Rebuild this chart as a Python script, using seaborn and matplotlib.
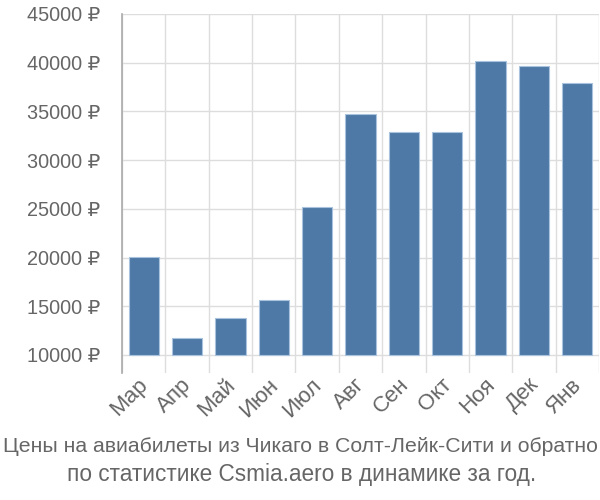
import matplotlib
matplotlib.use("Agg")
import matplotlib.pyplot as plt
import matplotlib.transforms as mtransforms
import seaborn as sns
import pandas as pd
from matplotlib.ticker import FixedLocator

months = ["Мар", "Апр", "Май", "Июн", "Июл", "Авг", "Сен", "Окт", "Ноя", "Дек", "Янв"]
prices = [20100, 11700, 13750, 15600, 25200, 34750, 32850, 32850, 40150, 39700, 37900]
ytick_values = [10000, 15000, 20000, 25000, 30000, 35000, 40000, 45000]
ytick_labels = [f"{v} ₽" for v in ytick_values]
title_lines = ["Цены на авиабилеты из Чикаго в Солт-Лейк-Сити и обратно",
               "по статистике Csmia.aero в динамике за год."]
base = 10000

sns.set_theme(style="white")
plt.rcParams["font.family"] = ["Liberation Sans", "DejaVu Sans"]

df = pd.DataFrame({"month": months, "height": [p - base for p in prices]})

fig = plt.figure(figsize=(6, 5), dpi=100)
ax = fig.add_axes([122/600, (500-373)/500, (599-122)/600, (373-14)/500])

sns.barplot(data=df, x="month", y="height", ax=ax, color="#4e79a7", saturation=1,
            width=0.7, bottom=base, edgecolor="#a9c2dd", linewidth=0.8, zorder=3)

ax.set_xlim(-0.5, len(months) - 0.5)
ax.set_ylim(8150, 45000)
ax.set_yticks(ytick_values)
ax.set_yticklabels(ytick_labels)
ax.xaxis.set_minor_locator(FixedLocator([i + 0.5 for i in range(-1, len(months))]))
ax.grid(axis="y", which="major", color="#dddddd", linewidth=1, zorder=0)
ax.grid(axis="x", which="minor", color="#dddddd", linewidth=1, zorder=0)
ax.set_axisbelow(True)
ax.set_xlabel("")
ax.set_ylabel("")

for s in ["top", "right", "bottom"]:
    ax.spines[s].set_visible(False)
ax.spines["left"].set_color("#aaaaaa")
ax.spines["left"].set_linewidth(1.2)

ax.tick_params(axis="y", length=14, width=1, color="#dddddd", labelsize=14.3,
               labelcolor="#666666", pad=2)
ax.tick_params(axis="x", which="both", length=0, labelsize=16, labelcolor="#666666", pad=1)
shift = mtransforms.ScaledTranslation(-0.06, 0, fig.dpi_scale_trans)
for lab in ax.get_xticklabels():
    lab.set_rotation(45)
    lab.set_ha("right")
    lab.set_rotation_mode("anchor")
    lab.set_transform(lab.get_transform() + shift)

fig.text(0.5, 1 - 447/500, title_lines[0], ha="center", va="center", fontsize=15.3, color="#666666")
fig.text(0.503, 1 - 474/500, title_lines[1], ha="center", va="center", fontsize=16.3, color="#666666")

fig.savefig("out.png", dpi=100)
